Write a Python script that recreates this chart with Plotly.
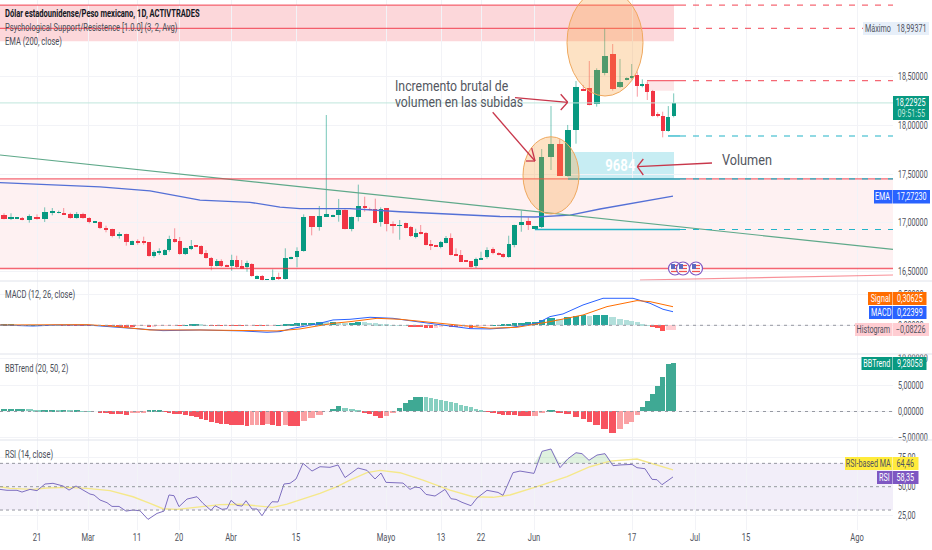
import plotly.graph_objects as go

# ---------- data ----------
bar_pos = [4,11,17.3,22.3,29.3,37,44.7,52.3,58.7,63.7,70.3,76.7,83,89.3,94.7,100,106,112.3,119.3,126.3,132.3,137.7,143.7,149,154,159.3,164.7,169.3,174.7,179.7,185.3,191.3,196.3,201.3,206,211.3,216.7,221.3,226.7,231.7,236.7,241.7,247,251.7,257,262.3,267.3,272.7,278.7,285.3,291,297,303.7,311.7,319.3,326.3,333,338.7,345,351.7,358.3,364.7,369.7,375.3,380.7,386.7,393,399.7,405.7,410.7,415.7,420.7,426,430.7,436,440.7,446,450.7,456,460.7,466,471,476,481,487,493,498.7,503.3,508.7,514.3,521.3,528.3,535,541.7,551,559.7,567.7,576,583.3,589.3,596.7,604.7,612.7,620,626.7,631.7,637.3,642.3,647.3,652.7,657.7,662.7,668.3,673.7]
opens = [17.079,17.042,17.042,17.049,17.028,17.059,17.042,17.110,17.103,17.097,17.093,17.052,17.093,17.045,17.004,17.011,16.949,16.936,16.871,16.885,16.775,16.816,16.806,16.802,16.662,16.696,16.672,16.720,16.830,16.809,16.676,16.734,16.765,16.761,16.690,16.642,16.560,16.608,16.563,16.560,16.614,16.553,16.543,16.580,16.426,16.454,16.413,16.413,16.444,16.420,16.625,16.645,16.707,17.069,16.953,17.066,17.066,17.079,17.131,16.939,17.059,17.175,17.141,17.137,17.004,17.148,16.987,16.970,16.997,16.960,16.850,16.898,16.898,16.782,16.772,16.755,16.792,16.847,16.679,16.672,16.618,16.604,16.556,16.625,16.645,16.727,16.686,16.679,16.645,16.772,16.987,17.018,16.932,16.953,17.671,17.808,17.476,17.951,18.362,18.386,18.215,18.533,18.731,18.389,18.471,18.481,18.512,18.403,18.423,18.355,18.112,18.095,17.941,18.098]
highs = [17.097,17.097,17.049,17.059,17.086,17.086,17.158,17.151,17.124,17.151,17.103,17.110,17.103,17.056,17.011,17.014,16.970,16.939,16.905,16.888,16.816,16.830,16.857,16.802,16.717,16.738,16.727,16.867,16.943,16.854,16.744,16.823,16.765,16.768,16.720,16.649,16.628,16.625,16.570,16.672,16.662,16.618,16.611,16.584,16.461,16.464,16.420,16.522,16.488,16.738,16.652,16.748,17.086,17.069,17.172,18.105,17.083,17.244,17.137,17.062,17.391,17.267,17.155,17.247,17.158,17.148,17.014,17.028,17.001,16.967,16.939,16.977,16.905,16.823,16.772,16.813,16.864,16.891,16.738,16.720,16.618,16.604,16.642,16.703,16.748,16.748,16.696,16.686,16.867,16.980,17.124,17.056,16.967,17.756,18.197,17.856,18.003,18.454,18.413,18.659,18.584,18.994,18.833,18.680,18.491,18.628,18.550,18.471,18.447,18.362,18.133,18.139,18.197,18.327]
lows = [17.035,17.028,17.038,17.025,17.001,17.032,17.008,17.076,17.097,17.086,17.042,17.042,17.042,16.994,17.004,16.936,16.902,16.850,16.837,16.765,16.772,16.775,16.775,16.652,16.642,16.669,16.666,16.703,16.796,16.672,16.669,16.720,16.755,16.672,16.632,16.512,16.553,16.546,16.550,16.508,16.536,16.526,16.498,16.447,16.426,16.409,16.413,16.409,16.413,16.416,16.625,16.543,16.703,16.871,16.919,17.062,17.066,17.011,16.932,16.912,17.014,17.114,17.127,16.994,16.960,16.912,16.891,16.826,16.943,16.854,16.840,16.881,16.768,16.720,16.755,16.738,16.789,16.666,16.666,16.597,16.601,16.539,16.536,16.618,16.632,16.676,16.666,16.642,16.642,16.748,16.908,16.926,16.932,16.946,17.541,17.480,17.473,17.811,18.355,18.204,18.191,18.512,18.355,18.382,18.461,18.471,18.293,18.389,18.259,18.088,18.081,17.876,17.934,18.081]
closes = [17.042,17.049,17.049,17.028,17.066,17.042,17.107,17.117,17.110,17.086,17.049,17.090,17.049,17.011,17.011,16.943,16.922,16.867,16.878,16.802,16.816,16.799,16.799,16.662,16.700,16.714,16.720,16.833,16.802,16.676,16.741,16.765,16.758,16.683,16.642,16.560,16.608,16.560,16.556,16.618,16.546,16.529,16.584,16.454,16.454,16.413,16.420,16.440,16.420,16.642,16.652,16.710,17.062,16.953,17.069,17.086,17.073,17.131,16.939,17.062,17.175,17.151,17.134,17.001,17.144,16.984,16.967,16.977,16.949,16.864,16.898,16.891,16.772,16.768,16.758,16.802,16.840,16.672,16.669,16.601,16.604,16.546,16.625,16.642,16.717,16.686,16.679,16.649,16.779,16.973,17.004,16.977,16.967,17.678,17.808,17.483,17.951,18.396,18.355,18.208,18.567,18.710,18.372,18.444,18.478,18.502,18.399,18.413,18.338,18.098,18.105,17.944,18.088,18.22925]
ema_pos = [0,50,100,150,200,250,280,300,350,400,450,500,535,570,600,640,673]
ema_val = [17.411,17.392,17.367,17.326,17.233,17.210,17.161,17.144,17.144,17.113,17.085,17.064,17.059,17.079,17.141,17.213,17.2723]

macd_pos = [0,33,57,87,113,143,163,200,243,267,280,293,317,333,350,370,393,417,443,470,490,510,537,550,563,583,603,633,650,663,673]
macd_val = [0.005,-0.012,0.005,0.005,-0.027,-0.06,-0.088,-0.077,-0.093,-0.115,-0.104,-0.049,0.022,0.088,0.099,0.132,0.115,0.06,0.005,-0.055,-0.06,-0.038,0.033,0.143,0.187,0.335,0.445,0.445,0.363,0.264,0.22399]
signal_pos = [0,57,87,113,150,200,243,277,300,333,350,377,400,433,460,490,517,550,583,607,637,650,673]
signal_val = [0.005,0.005,0.011,-0.016,-0.077,-0.077,-0.088,-0.093,-0.06,0.033,0.06,0.115,0.099,0.044,-0.011,-0.049,-0.033,0.06,0.17,0.308,0.407,0.39,0.30625]
macd_hist = [.005,.005,.004,.003,.003,.004,.004,.003,.001,-.001,-.002,-.002,-.003,-.004,-.004,-.005,-.006,-.008,-.012,-.015,-.015,-.008,-.005,-.02,-.015,-.008,-.004,-.003,-.002,-.002,.002,.006,.012,.008,.004,-.003,-.004,-.005,-.004,-.005,-.005,-.005,-.004,-.003,-.004,-.006,-.003,-.002,.004,.012,.022,.03,.042,.045,.052,.05,.053,.045,.038,.04,.05,.048,.042,.03,.02,.01,.004,.002,.001,-.012,-.015,-.02,-.04,-.045,-.04,-.02,-.01,-.03,-.035,-.03,-.025,-.04,-.02,-.005,-.002,.002,.003,.006,.015,.03,.04,.05,.055,.08,.12,.1,.13,.16,.165,.16,.162,.165,.14,.11,.09,.07,.05,.01,.002,-.02,-.04,-.09,-.085,-.08226]
bbtrend = [.55,.55,.55,.55,.5,.2,.2,.2,.15,.15,.1,.1,.05,.03,0,-.1,-.35,-.4,-.55,-.7,-.35,-.2,-.1,.1,.1,.1,-.05,-.2,-.45,-.55,-.65,-.8,-1.1,-1.4,-1.6,-1.9,-2.2,-2.3,-2.4,-2.5,-2.5,-2.5,-2.7,-2.6,-2.5,-2.5,-2.3,-2.6,-2.7,-2.6,-2.7,-2.7,-1.8,-1.3,-.6,0,.5,1,.7,.4,.15,-.3,-.5,-.8,-1.3,-.9,-.2,.7,1.7,2.2,2.8,2.8,2.7,2.5,2.3,2.1,1.9,1.8,1.6,1.3,1.1,.8,.5,.2,-.02,-.2,-.5,-.7,-.7,-.7,-.8,-.9,-.8,-.2,.2,-.1,-.5,-1,-1.4,-1.9,-2.5,-3.3,-4,-3.3,-2.3,-1.9,-.6,.8,2,3.3,4.9,6.6,9.1,9.28058]
rsi_pos = [0,7,17,22,30,37,45,53,63,69,76,83,90,94,100,107,112,119,126,133,140,148,157,164,169,174,179,187,197,203,211,215,222,227,231,237,242,246,252,257,262,267,272,278,284,290,296,303,312,320,330,338,345,350,358,367,375,381,386,403,410,415,420,426,435,445,451,456,462,471,477,487,498,503,513,520,534,542,551,560,568,576,582,589,597,605,613,620,632,637,645,652,657,662,673]
rsi_val = [47.7,46.9,46.9,45.4,47.7,46.6,52.3,52.9,50.6,47.1,50.6,47.1,43.7,42.9,38.6,36.3,33.1,33.1,29.1,30,29.4,22,27.1,29.1,42.9,42.3,32.9,39.4,41.4,35.7,29.7,33.7,30.6,31.1,38.3,34,33.4,38,30.9,30.9,25.1,31.7,37.1,36.9,52.3,52.9,56.6,70,63.4,67.1,66.6,68.6,57.8,60.9,66,64,56.6,61.7,53.7,53.1,47.7,49.7,49.1,43.4,42,47.7,39.7,39.1,36.6,33.7,40.3,46.9,45.1,42.6,62,63.4,61.4,80.3,82.3,66.3,74,79.1,78.3,72.6,77.1,78.3,68,68.6,69.1,66.3,65.4,56.3,56,51.7,58.35]
rsima_pos = [0,10,33,47,67,87,110,133,150,163,177,200,220,240,260,273,287,300,320,337,350,367,380,400,423,450,473,493,510,537,567,590,610,637,650,673]
rsima_val = [50,48.6,47.7,48.9,49.4,48.6,46.6,41.4,35.7,31.1,30.6,32.9,34.6,34.9,33.4,32.3,35.1,38.6,44.3,50,55.7,62,64,62,55.7,47.1,41.4,40.9,42.9,50,58.6,67.1,71.9,73.7,70.6,64.46]

tick_pos = [37,88,137,179,231,296,386,441,481,534,632,695,746,857]
tick_text = ["21","Mar","11","20","Abr","15","Mayo","13","22","Jun","17","Jul","15","Ago"]
price_ticks = [16.5,17,17.5,18,18.5]

FONT = "Roboto"
GREEN, RED = "#089981", "#f23645"
W, H, PR = 932, 550, 893

def X(px): return px / W
def Y(py): return 1 - py / H
def dom(top, bottom): return [Y(bottom), Y(top)]

def widths(f):
    n = len(bar_pos); out = []
    for i in range(n):
        a = bar_pos[i] - bar_pos[i-1] if i else bar_pos[1] - bar_pos[0]
        b = bar_pos[i+1] - bar_pos[i] if i < n-1 else a
        out.append(min(a, b) * f)
    return out

fig = go.Figure()
shapes, annos = [], []

def rect(x0, x1, y0, y1, fill, layer="below"):
    shapes.append(dict(type="rect", xref="x", yref="y", x0=x0, x1=x1, y0=y0, y1=y1, fillcolor=fill, line_width=0, layer=layer))
def level(p, x0, x1, color, w=1.3, dash="solid", yref="y"):
    shapes.append(dict(type="line", xref="x", yref=yref, x0=x0, x1=x1, y0=p, y1=p, line=dict(color=color, width=w, dash=dash), layer="above"))
def seg(x0, y0, x1, y1, color="#c8374b", w=1.3):
    shapes.append(dict(type="line", xref="paper", yref="paper", x0=X(x0), x1=X(x1), y0=Y(y0), y1=Y(y1), line=dict(color=color, width=w), layer="above"))
def text(px, py, s, size=10, color="#4a4e58", anchor="left", bold=False):
    annos.append(dict(xref="paper", yref="paper", x=X(px), y=Y(py), text=f"<b>{s}</b>" if bold else s, showarrow=False,
                      xanchor=anchor, align=anchor, yanchor="middle", font=dict(family=FONT, size=size, color=color), borderpad=0, borderwidth=0))
def box(x0, x1, y0, y1, fill, s, color="#ffffff", size=10):
    shapes.append(dict(type="rect", xref="paper", yref="paper", x0=X(x0), x1=X(x1), y0=Y(y1), y1=Y(y0), fillcolor=fill, line_width=0, layer="above"))
    if s:
        text((x0 + x1) / 2, (y0 + y1) / 2, s, size=size, color=color, anchor="center")

# ---------- price zones and levels ----------
RL, CY = "rgba(242,54,69,0.75)", "#22b4c8"
DASH = "6px,7px"
rect(0, 674, 18.861, 19.233, "rgba(242,54,69,0.20)")
rect(0, 893, 16.531, 17.449, "rgba(242,54,69,0.07)")
rect(568, 674, 17.449, 17.726, "rgba(0,172,200,0.22)")
rect(647, 674, 18.354, 18.457, "rgba(242,54,69,0.13)")

# ---------- candles ----------
for is_up, col, wick in ((True, GREEN, "rgba(8,153,129,0.55)"), (False, RED, "rgba(242,54,69,0.5)")):
    idx = [i for i in range(len(opens)) if (closes[i] >= opens[i]) == is_up]
    wx, wy = [], []
    for i in idx:
        wx += [bar_pos[i], bar_pos[i], None]
        wy += [lows[i], highs[i], None]
    fig.add_trace(go.Scatter(x=wx, y=wy, mode="lines", line=dict(color=wick, width=1), hoverinfo="skip", yaxis="y"))
    w = widths(0.8)
    fig.add_trace(go.Bar(x=[bar_pos[i] for i in idx], y=[abs(closes[i] - opens[i]) for i in idx],
                         base=[min(opens[i], closes[i]) for i in idx], width=[w[i] for i in idx],
                         marker=dict(color=col, line_width=0), hoverinfo="skip", yaxis="y"))

fig.add_trace(go.Scatter(x=ema_pos, y=ema_val, mode="lines", line=dict(color="#5470d6", width=1.3), hoverinfo="skip", yaxis="y"))
fig.add_trace(go.Scatter(x=[0, 893], y=[17.695, 16.727], mode="lines", line=dict(color="#5fa98a", width=1.2), hoverinfo="skip", yaxis="y"))
fig.add_trace(go.Scatter(x=[640, 893], y=[16.413, 16.464], mode="lines", line=dict(color="rgba(242,54,69,0.55)", width=1.2), hoverinfo="skip", yaxis="y"))

# levels
level(18.229, 0, 893, "#bfe6dc", 1)
for p in (19.233, 18.99371):
    level(p, 0, 680, RL); level(p, 680, 893, RL, 1.2, DASH)
level(18.457, 647, 680, RL); level(18.457, 680, 893, RL, 1.2, DASH)
level(17.89, 668, 680, CY); level(17.89, 680, 893, CY, 1.2, DASH)
level(17.449, 0, 893, RL)
level(17.449, 568, 680, CY, 1.4); level(17.449, 680, 893, CY, 1.2, DASH)
level(16.931, 535, 680, CY, 1.6); level(16.931, 680, 893, CY, 1.2, DASH)
level(16.531, 0, 893, RL)

# ellipses
shapes.append(dict(type="circle", xref="x", yref="y", x0=523, x1=579, y0=17.090, y1=17.882, fillcolor="rgba(250,160,60,0.30)", line=dict(color="#efa85e", width=1), layer="above"))
shapes.append(dict(type="circle", xref="x", yref="y", x0=567, x1=643, y0=18.300, y1=19.393, fillcolor="rgba(250,160,60,0.30)", line=dict(color="#efa85e", width=1), layer="above"))

# arrows
seg(515, 97.7, 567.7, 102.3); seg(560.7, 94.3, 567.7, 102.3); seg(560.7, 110, 567.7, 102.3)
seg(492.7, 112.3, 535, 161); seg(531.7, 148, 535, 161); seg(526, 161, 535, 161)
seg(712, 163, 637.3, 166.7); seg(643.3, 159, 637.3, 166.7); seg(643.3, 175, 637.3, 166.7)

# flags
for cx in (675, 683, 696):
    shapes.append(dict(type="circle", xref="paper", yref="paper", x0=X(cx-6.5), x1=X(cx+6.5), y0=Y(275), y1=Y(262), fillcolor="#ffffff", line=dict(color="#7e57c2", width=1.2), layer="above"))
    for dy in (-3, 0, 3):
        seg(cx-4, 268.5+dy, cx+4, 268.5+dy, "#ef5350", 1.3)
    shapes.append(dict(type="rect", xref="paper", yref="paper", x0=X(cx-4), x1=X(cx), y0=Y(269), y1=Y(264), fillcolor="#5c6bc0", line_width=0, layer="above"))

# ---------- MACD ----------
def hist_cols(vals, up, upl, dn, dnl):
    out = []
    for i, v in enumerate(vals):
        prev = vals[i-1] if i else v
        out.append((up if v >= prev else upl) if v >= 0 else (dn if v <= prev else dnl))
    return out
fig.add_trace(go.Bar(x=bar_pos, y=macd_hist, width=widths(0.92), marker=dict(color=hist_cols(macd_hist, "#26a69a", "#b2dfdb", "#ff5252", "#ffcdd2"), line_width=0), hoverinfo="skip", yaxis="y2"))
fig.add_trace(go.Scatter(x=macd_pos, y=macd_val, mode="lines", line=dict(color="#2962ff", width=1), hoverinfo="skip", yaxis="y2"))
fig.add_trace(go.Scatter(x=signal_pos, y=signal_val, mode="lines", line=dict(color="#ff6d00", width=1), hoverinfo="skip", yaxis="y2"))
level(0, 0, 893, "#9598a1", 1, "3px,4px", "y2")

# ---------- BBTrend ----------
fig.add_trace(go.Bar(x=bar_pos, y=bbtrend, width=widths(0.92), marker=dict(color=hist_cols(bbtrend, "#3fa994", "#86cfc0", "#f7525f", "#faa1a4"), line_width=0), hoverinfo="skip", yaxis="y3"))
level(0, 0, 893, "#9598a1", 1, "3px,4px", "y3")

# ---------- RSI ----------
shapes.append(dict(type="rect", xref="x", yref="y4", x0=0, x1=893, y0=30, y1=70, fillcolor="rgba(126,87,194,0.10)", line_width=0, layer="below"))
for v in (70, 50, 30):
    level(v, 0, 893, "#8a8d96", 0.9, "3px,3px", "y4")
fig.add_trace(go.Scatter(x=rsi_pos, y=[70]*len(rsi_pos), mode="lines", line=dict(width=0), hoverinfo="skip", yaxis="y4"))
fig.add_trace(go.Scatter(x=rsi_pos, y=[max(v, 70) for v in rsi_val], mode="lines", line=dict(width=0), fill="tonexty", fillcolor="rgba(76,175,80,0.18)", hoverinfo="skip", yaxis="y4"))
fig.add_trace(go.Scatter(x=rsima_pos, y=rsima_val, mode="lines", line=dict(color="#f5e88a", width=1.4), hoverinfo="skip", yaxis="y4"))
fig.add_trace(go.Scatter(x=rsi_pos, y=rsi_val, mode="lines", line=dict(color="#7e6fc0", width=1), hoverinfo="skip", yaxis="y4"))

# ---------- separators ----------
for py in (281, 354, 440):
    seg(0, py, W, py, "#e0e3eb", 1)

# ---------- texts ----------
text(5, 13.5, "Dólar estadounidense/Peso mexicano, 1D, ACTIVTRADES", 10.5, "#131722", bold=True)
text(5, 27.5, "Psychological Support/Resistence [1.0.0] (3, 2, Avg)", 10.5)
text(5, 41.5, "EMA (200, close)", 10.5)
text(5, 294.5, "MACD (12, 26, close)", 10.5)
text(5, 368.5, "BBTrend (20, 50, 2)", 10.5)
text(5, 454.5, "RSI (14, close)", 10.5)
text(395, 85.5, "Incremento brutal de", 15, "#54575f")
text(395, 102, "volumen en las subidas", 15, "#54575f")
text(722, 159.5, "Volumen", 15.5, "#54575f")
text(620, 166, "9684", 16, "#ffffff", "center", bold=True)

box(863, 893, 22, 35, "#e7eff9", "Máximo", "#50535e")
box(893, 929, 22, 35, "#e7eff9", "18,99371", "#50535e")
box(893, 929, 96, 120, GREEN, "")
text(911, 102.5, "18,22925", 10, "#ffffff", "center")
text(911, 113.5, "09:51:55", 10, "#bfe6dc", "center")
box(874, 892.5, 190, 203.5, "#2962ff", "EMA")
box(893, 930, 190, 203.5, "#2962ff", "17,27230")
box(868, 892.5, 292, 305, "#ff6d00", "Signal")
box(893, 926.5, 292, 305, "#ff6d00", "0,30625")
box(869, 892.5, 306, 319, "#2962ff", "MACD")
box(893, 926.5, 306, 319, "#2962ff", "0,22399")
box(855, 892.5, 323, 336, "#ffcdd2", "Histogram", "#50535e")
box(893, 929, 323, 336, "#ffcdd2", "−0,08226", "#50535e")
box(861.5, 892.5, 357, 370, GREEN, "BBTrend")
box(893, 926.5, 357, 370, GREEN, "9,28058")
box(845, 892.5, 457, 470, "#ffeb3b", "RSI-based MA", "#50535e")
box(893, 918.5, 457, 470, "#ffeb3b", "64,46", "#50535e")
box(877, 892.5, 471, 484, "#7e57c2", "RSI")
box(893, 918.5, 471, 484, "#7e57c2", "58,35")

# ---------- layout ----------
GRID = "#f2f3f7"
def yax(top, bottom, rng, tv, fmt):
    return dict(domain=dom(top, bottom), range=rng, side="right", anchor="x", tickvals=tv, tickformat=fmt, showgrid=True,
                gridcolor=GRID, gridwidth=1, zeroline=False, showline=False, ticks="outside", ticklen=2, tickcolor="rgba(0,0,0,0)", fixedrange=True,
                automargin=False, tickfont=dict(family=FONT, size=10, color="#50535e"))
fig.update_layout(
    width=W, height=H, margin=dict(l=0, r=0, t=0, b=0), autosize=False, showlegend=False,
    paper_bgcolor="#ffffff", plot_bgcolor="#ffffff", separators=",.", barmode="overlay", bargap=0,
    xaxis=dict(domain=[0, PR / W], range=[0, PR], type="linear", anchor="y4", tickvals=tick_pos, ticktext=tick_text, showgrid=True,
               gridcolor=GRID, zeroline=False, showline=False, ticks="", fixedrange=True, automargin=False,
               tickfont=dict(family=FONT, size=10.5, color="#50535e")),
    yaxis=yax(0, 281, [16.4026, 19.2846], price_ticks, ".5f"),
    yaxis2=yax(281, 354, [-0.473, 0.73], [0, 0.5], ".5f"),
    yaxis3=yax(354, 440, [-5.41, 10.91], [-5, 0, 5, 10], ".5f"),
    yaxis4=yax(440, 530, [12.9, 90], [25, 50, 75], ".2f"),
    shapes=shapes, annotations=annos,
)
# The reference labels use a condensed face; no condensed family is installed, so the text is narrowed.
POST = """
document.body.style.margin='0';
var gd=document.getElementById('{plot_id}');
function squeeze(){
  gd.querySelectorAll('svg text').forEach(function(el){
    if(el.dataset.sq) return; el.dataset.sq='1';
    var size=parseFloat(getComputedStyle(el).fontSize)||10;
    var f=size>=13?0.82:0.72;
    var x=parseFloat(el.getAttribute('x'))||0;
    var t=el.getAttribute('transform')||'';
    el.setAttribute('transform',t+' translate('+x+',0) scale('+f+',1) translate('+(-x)+',0)');
  });
}
squeeze();
setTimeout(squeeze,50);
"""
fig.write_html("out.html", config={"displayModeBar": False}, post_script=POST)
